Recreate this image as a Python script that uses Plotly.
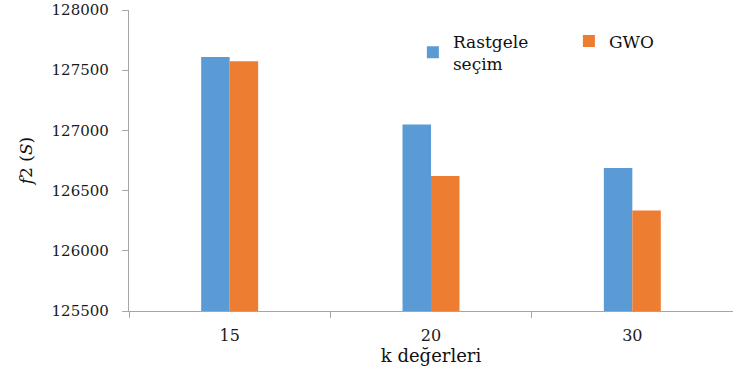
import plotly.graph_objects as go

categories = ["15", "20", "30"]
rastgele = [127610, 127050, 126687]
gwo = [127575, 126622, 126334]
series_names = ["Rastgele<br>seçim", "GWO"]
y_ticks = [125500, 126000, 126500, 127000, 127500, 128000]

serif = "DejaVu Serif"

fig = go.Figure()
fig.add_trace(go.Bar(x=categories, y=rastgele, name=series_names[0],
                     marker=dict(color="#5b9bd5", line=dict(width=0))))
fig.add_trace(go.Bar(x=categories, y=gwo, name=series_names[1],
                     marker=dict(color="#ed7d31", line=dict(width=0))))

fig.update_layout(
    width=733, height=377,
    margin=dict(l=129, r=0, t=10, b=66, autoexpand=False),
    paper_bgcolor="white", plot_bgcolor="white",
    barmode="group", bargap=0.717, bargroupgap=0,
    font=dict(family=serif, color="#1a1a1a"),
    showlegend=True,
    legend=dict(orientation="h", x=0.47, y=0.955, xanchor="left", yanchor="top",
                font=dict(family=serif, size=17, color="#111"),
                itemwidth=30, entrywidth=111, bgcolor="rgba(0,0,0,0)",
                traceorder="normal"),
    xaxis=dict(type="category", range=[-0.5, 2.5],
               showline=True, linecolor="#a6a6a6", linewidth=1.3,
               ticks="outside", tickson="boundaries", ticklen=6, tickcolor="#a6a6a6",
               tickfont=dict(family=serif, size=16, color="#1a1a1a"),
               ticklabelstandoff=10,
               title=dict(text="k değerleri", font=dict(family=serif, size=18, color="#111"),
                          standoff=5),
               showgrid=False, zeroline=False),
    yaxis=dict(range=[125500, 128000], tickvals=y_ticks, tickformat="d",
               showline=True, linecolor="#a6a6a6", linewidth=1.3,
               ticks="outside", ticklen=6, tickcolor="#a6a6a6",
               tickfont=dict(family=serif, size=15, color="#1a1a1a"),
               ticklabelstandoff=10,
               title=dict(text="<i>f</i>2 (<i>S</i>)", font=dict(family=serif, size=17, color="#111"),
                          standoff=14),
               showgrid=False, zeroline=False),
)

fig.write_html("out.html", config={"displayModeBar": False},
               post_script="document.body.style.margin='0';")
